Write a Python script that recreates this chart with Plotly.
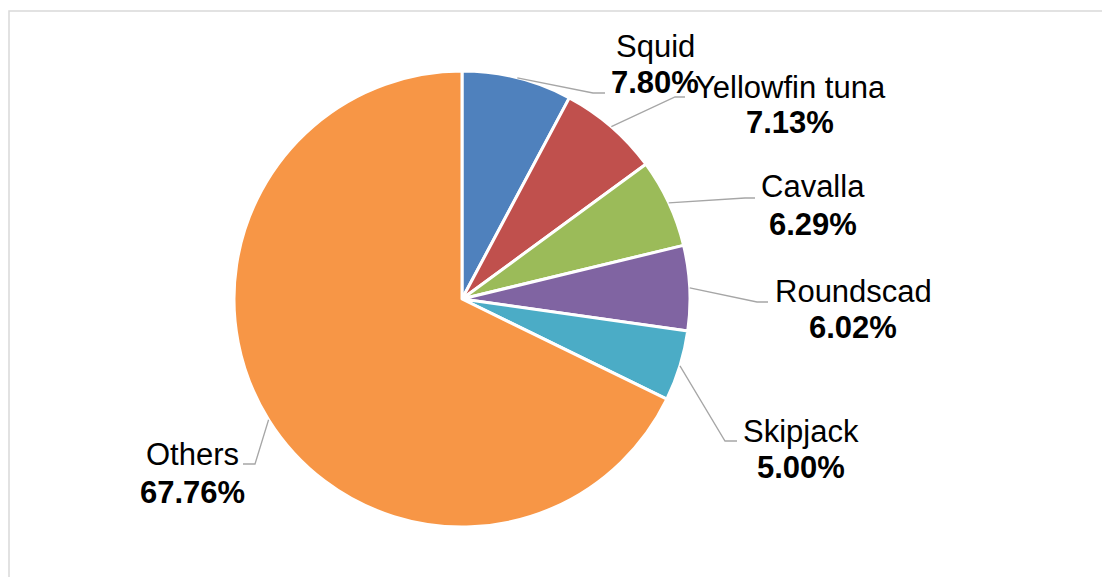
import math
import plotly.graph_objects as go

# ---- data ----
categories = ["Squid", "Yellowfin tuna", "Cavalla", "Roundscad", "Skipjack", "Others"]
shares = [7.80, 7.13, 6.29, 6.02, 5.00, 67.76]
colors = ["#4F81BD", "#C0504D", "#9BBB59", "#8064A2", "#4BACC6", "#F79646"]

# ---- layout constants (pixels, in window coordinates) ----
W, H = 1110, 577
OFF = 8  # default page body margin
CX, CY, R = 462, 299, 228
FS = 31
FONT = "Liberation Sans, Arial, sans-serif"
label_cx = [655, 790, 813, 853, 801, 192]
name_base = [57, 98, 197, 302, 442, 465]
pct_base = [93, 133, 235, 338, 478, 503]
elbow = [(593, 93), (675, 97), (745, 198), (757, 302), (725, 441), (255, 464)]
lead_end = [(605, 93), (685, 97), (755, 198), (768, 302), (737, 441), (243, 464)]


def px(x):
    return (x - OFF) / W


def py(y):
    return 1 - (y - OFF) / H


fig = go.Figure()
fig.add_trace(go.Pie(
    labels=categories,
    values=shares,
    sort=False,
    direction="clockwise",
    rotation=0,
    marker=dict(colors=colors, line=dict(color="white", width=3)),
    textinfo="none",
    hoverinfo="label+percent",
    showlegend=False,
    domain=dict(x=[px(CX - R), px(CX + R)], y=[py(CY + R), py(CY - R)]),
))

shapes = []
# chart frame
shapes.append(dict(type="rect", xref="paper", yref="paper",
                   x0=px(9), x1=px(1130), y0=py(600), y1=py(11),
                   line=dict(color="#D9D9D9", width=1.5), fillcolor="rgba(0,0,0,0)", layer="below"))

annotations = []
total = sum(shares)
cum = 0.0
for i, (cat, v) in enumerate(zip(categories, shares)):
    mid = (cum + v / 2) / total
    cum += v
    th = mid * 2 * math.pi
    sx = CX + R * math.sin(th)
    sy = CY - R * math.cos(th)
    ex, ey = elbow[i]
    fx, fy = lead_end[i]
    shapes.append(dict(type="path", xref="paper", yref="paper",
                       path=f"M {px(sx)},{py(sy)} L {px(ex)},{py(ey)} L {px(fx)},{py(fy)}",
                       line=dict(color="#A6A6A6", width=1.3)))
    annotations.append(dict(x=px(label_cx[i]), y=py(name_base[i] - 0.3465 * FS),
                            xref="paper", yref="paper", xanchor="center", yanchor="middle",
                            text=cat, showarrow=False,
                            font=dict(family=FONT, size=FS, color="#000000")))
    annotations.append(dict(x=px(label_cx[i]), y=py(pct_base[i] - 0.3465 * FS),
                            xref="paper", yref="paper", xanchor="center", yanchor="middle",
                            text=f"<b>{v:.2f}%</b>", showarrow=False,
                            font=dict(family=FONT, size=FS, color="#000000")))

fig.update_layout(
    width=W, height=H,
    margin=dict(l=0, r=0, t=0, b=0),
    paper_bgcolor="white",
    plot_bgcolor="white",
    shapes=shapes,
    annotations=annotations,
)

fig.write_html("out.html", config={"displayModeBar": False})
